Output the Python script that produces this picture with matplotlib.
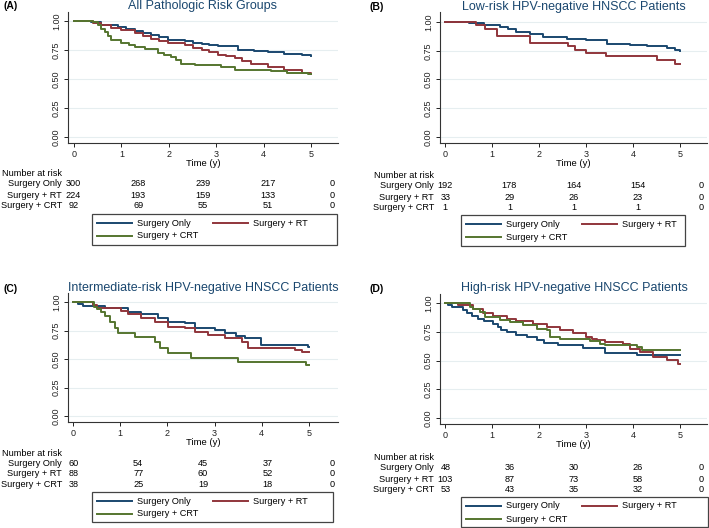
import matplotlib
matplotlib.use('Agg')
import matplotlib.pyplot as plt
from matplotlib.lines import Line2D
from matplotlib.patches import Rectangle

plt.rcParams['font.family'] = ['Liberation Sans', 'DejaVu Sans']

W, H = 709, 528

# ---- data ----
labels = ['Surgery Only', 'Surgery + RT', 'Surgery + CRT']
titles = ['All Pathologic Risk Groups',
          'Low-risk HPV-negative HNSCC Patients',
          'Intermediate-risk HPV-negative HNSCC Patients',
          'High-risk HPV-negative HNSCC Patients']
panel_tags = ['(A)', '(B)', '(C)', '(D)']
years = [0, 1, 2, 3, 4, 5]
yticks = [0.00, 0.25, 0.50, 0.75, 1.00]

# panel A
a_only_t = [0, 0.35, 0.58, 0.93, 1.1, 1.28, 1.45, 1.63, 1.8, 1.98, 2.34, 2.5, 2.69, 2.85, 3.04, 3.46, 3.8, 4.09, 4.44, 4.8, 5.0]
a_only_s = [1.0, 0.99, 0.968, 0.948, 0.93, 0.91, 0.893, 0.876, 0.858, 0.839, 0.825, 0.813, 0.80, 0.79, 0.781, 0.747, 0.74, 0.733, 0.718, 0.705, 0.695]
a_rt_t = [0, 0.4, 0.58, 0.79, 1.0, 1.28, 1.45, 1.63, 1.8, 1.98, 2.34, 2.5, 2.69, 2.85, 3.04, 3.2, 3.39, 3.55, 3.74, 4.09, 4.44, 4.8, 5.0]
a_rt_s = [1.0, 0.985, 0.968, 0.94, 0.92, 0.897, 0.87, 0.848, 0.83, 0.81, 0.79, 0.77, 0.753, 0.73, 0.71, 0.695, 0.681, 0.655, 0.632, 0.603, 0.575, 0.552, 0.54]
a_crt_t = [0, 0.4, 0.51, 0.58, 0.65, 0.72, 0.79, 1.0, 1.15, 1.28, 1.49, 1.77, 1.9, 2.05, 2.15, 2.26, 2.55, 3.11, 3.39, 4.16, 4.5, 4.93, 5.0]
a_crt_s = [1.0, 0.99, 0.968, 0.935, 0.905, 0.87, 0.833, 0.81, 0.79, 0.776, 0.76, 0.724, 0.71, 0.69, 0.66, 0.632, 0.618, 0.603, 0.575, 0.566, 0.555, 0.546, 0.54]

# panel B
b_only_t = [0, 0.5, 0.82, 1.17, 1.35, 1.52, 1.81, 2.09, 2.59, 3.01, 3.44, 3.94, 4.29, 4.72, 4.9, 5.0]
b_only_s = [1.0, 0.99, 0.971, 0.957, 0.935, 0.913, 0.899, 0.87, 0.855, 0.841, 0.812, 0.803, 0.788, 0.774, 0.76, 0.745]
b_rt_t = [0, 0.67, 0.85, 1.1, 1.81, 2.62, 2.77, 3.0, 3.42, 4.5, 4.9, 5.0]
b_rt_s = [1.0, 0.97, 0.94, 0.88, 0.82, 0.79, 0.76, 0.73, 0.70, 0.667, 0.638, 0.638]
b_crt_t = []
b_crt_s = []

# panel C
c_only_t = [0, 0.1, 0.21, 0.67, 1.17, 1.45, 1.8, 2.01, 2.37, 2.58, 3.0, 3.21, 3.45, 3.64, 3.99, 4.98, 5.0]
c_only_s = [1.0, 0.98, 0.965, 0.944, 0.915, 0.892, 0.857, 0.828, 0.813, 0.775, 0.755, 0.725, 0.705, 0.687, 0.623, 0.602, 0.602]
c_rt_t = [0, 0.42, 0.5, 1.02, 1.17, 1.45, 1.73, 2.01, 2.37, 2.58, 2.86, 3.21, 3.57, 3.71, 4.7, 4.85, 5.0]
c_rt_s = [1.0, 0.974, 0.944, 0.924, 0.892, 0.857, 0.828, 0.784, 0.769, 0.74, 0.71, 0.681, 0.652, 0.594, 0.58, 0.565, 0.565]
c_crt_t = [0, 0.44, 0.5, 0.6, 0.67, 0.78, 0.89, 0.96, 1.31, 1.73, 1.84, 2.01, 2.51, 3.5, 4.94, 5.0]
c_crt_s = [1.0, 0.959, 0.94, 0.915, 0.877, 0.828, 0.769, 0.725, 0.696, 0.652, 0.594, 0.555, 0.506, 0.476, 0.447, 0.447]

# panel D
d_only_t = [0, 0.07, 0.14, 0.39, 0.46, 0.57, 0.7, 0.82, 1.03, 1.13, 1.2, 1.31, 1.52, 1.74, 1.95, 2.1, 2.4, 2.94, 3.4, 4.08, 5.0]
d_only_s = [1.0, 0.986, 0.965, 0.936, 0.913, 0.887, 0.864, 0.841, 0.82, 0.791, 0.762, 0.748, 0.725, 0.704, 0.675, 0.655, 0.632, 0.609, 0.565, 0.545, 0.545]
d_rt_t = [0, 0.28, 0.6, 0.8, 1.03, 1.31, 1.52, 1.88, 2.16, 2.45, 2.73, 3.01, 3.12, 3.23, 3.4, 3.79, 3.94, 4.15, 4.43, 4.72, 4.95, 5.0]
d_rt_s = [1.0, 0.98, 0.951, 0.913, 0.887, 0.864, 0.841, 0.815, 0.791, 0.762, 0.742, 0.704, 0.69, 0.675, 0.661, 0.646, 0.603, 0.574, 0.53, 0.501, 0.472, 0.472]
d_crt_t = [0, 0.53, 0.6, 0.74, 0.85, 1.17, 1.38, 1.67, 1.95, 2.16, 2.23, 2.45, 3.09, 3.3, 3.4, 4.08, 4.19, 5.0]
d_crt_s = [1.0, 0.965, 0.945, 0.922, 0.878, 0.849, 0.835, 0.806, 0.777, 0.768, 0.704, 0.69, 0.667, 0.646, 0.632, 0.617, 0.588, 0.588]

# number at risk at 0..5 (table columns)
a_risk = [[300, 268, 239, 217, 0], [224, 193, 159, 133, 0], [92, 69, 55, 51, 0]]
b_risk = [[192, 178, 164, 154, 0], [33, 29, 26, 23, 0], [1, 1, 1, 1, 0]]
c_risk = [[60, 54, 45, 37, 0], [88, 77, 60, 52, 0], [38, 25, 19, 18, 0]]
d_risk = [[48, 36, 30, 26, 0], [103, 87, 73, 58, 0], [53, 43, 35, 32, 0]]

curves = [
    [(a_only_t, a_only_s), (a_rt_t, a_rt_s), (a_crt_t, a_crt_s)],
    [(b_only_t, b_only_s), (b_rt_t, b_rt_s), (b_crt_t, b_crt_s)],
    [(c_only_t, c_only_s), (c_rt_t, c_rt_s), (c_crt_t, c_crt_s)],
    [(d_only_t, d_only_s), (d_rt_t, d_rt_s), (d_crt_t, d_crt_s)],
]
risks = [a_risk, b_risk, c_risk, d_risk]

# ---- styling / layout (pixels) ----
colors = ['#1a476f', '#90353b', '#55752f']
navy = '#1a476f'
grid_c = '#e6eef0'
# x0px, x5px, y1px, y0px, left, right, top, bottom
geom = [(74, 311, 21, 137, 68, 338, 12, 143),
        (445, 680, 22, 137, 440, 707, 12, 143),
        (73, 309, 302, 416, 68, 338, 293, 422),
        (445, 680, 303, 418, 440, 707, 294, 424)]
title_xy = [(203, 6), (574, 7), (203, 288), (574, 288)]
tag_xy = [(3, 6), (369, 7), (3, 289), (369, 289)]
table_off = [(30, 11), (32, 11), (31, 10.5), (33, 11)]
legend_box = [(92, 214, 337, 245), (461, 215, 685, 246),
              (92, 492, 333, 522), (461, 497, 708, 527)]
# legend entry slots: (line start, line end, text x, row) relative to box
slots = [(5, 40, 45, 0), (121, 156, 161, 0), (5, 40, 45, 1)]


def fx(px):
    return px / W


def fy(py):
    return 1 - py / H


fig = plt.figure(figsize=(W / 100, H / 100), dpi=100)

for i in range(4):
    x0, x5, y1, y0, L, R, T, B = geom[i]
    ax = fig.add_axes([fx(L), fy(B), (R - L) / W, (B - T) / H])
    ppt = (x5 - x0) / 5
    pps = (y0 - y1)
    ax.set_xlim((L - x0) / ppt, (R - x0) / ppt)
    ax.set_ylim((y0 - B) / pps, (y0 - T) / pps)

    for v in yticks:
        ax.axhline(v, color=grid_c, lw=0.8, zorder=0)

    for (t, s), c in zip(curves[i], colors):
        if len(t):
            ax.step(t, s, where='post', color=c, lw=1.4, zorder=3)

    ax.set_xticks(years)
    ax.set_yticks(yticks)
    ax.set_yticklabels([f'{v:.2f}' for v in yticks], rotation=90, va='center')
    ax.tick_params(labelsize=6.5, length=3, width=0.7, pad=2, colors='#222222')
    for sp in ['top', 'right']:
        ax.spines[sp].set_visible(False)
    for sp in ['left', 'bottom']:
        ax.spines[sp].set_linewidth(0.8)
        ax.spines[sp].set_color('#333333')
    ax.set_xlabel('Time (y)', fontsize=6.8, labelpad=0)

    tx, ty = title_xy[i]
    fig.text(fx(tx), fy(ty), titles[i], ha='center', va='center',
             fontsize=9, color=navy)
    gx, gy = tag_xy[i]
    fig.text(fx(gx), fy(gy), panel_tags[i], ha='left', va='center',
             fontsize=7.5, fontweight='bold')

    # number at risk table
    first, step = table_off[i]
    lab_x = L - 6
    fig.text(fx(lab_x), fy(B + first), 'Number at risk', ha='right',
             va='center', fontsize=6.6)
    cols = [L + f * (R - L) for f in (0.02, 0.26, 0.50, 0.74, 0.98)]
    for r, (lab, row) in enumerate(zip(labels, risks[i])):
        yy = B + first + step * (r + 1)
        fig.text(fx(lab_x), fy(yy), lab, ha='right', va='center', fontsize=6.6)
        for cx, n in zip(cols, row):
            fig.text(fx(cx), fy(yy), str(n), ha='center', va='center',
                     fontsize=6.6)

    # legend box drawn by hand to match the two-column Stata layout
    lx0, ly0, lx1, ly1 = legend_box[i]
    fig.add_artist(Rectangle((fx(lx0), fy(ly1)), (lx1 - lx0) / W,
                             (ly1 - ly0) / H, transform=fig.transFigure,
                             fill=False, edgecolor='#444444', lw=0.9))
    for (s0, s1, tx0, row), c, lab in zip(slots, colors, labels):
        yy = ly0 + 9 + 13 * row
        fig.add_artist(Line2D([fx(lx0 + s0), fx(lx0 + s1)], [fy(yy), fy(yy)],
                              transform=fig.transFigure, color=c, lw=1.4))
        fig.text(fx(lx0 + tx0), fy(yy), lab, ha='left', va='center',
                 fontsize=6.6)

plt.savefig('out.png', dpi=100)
